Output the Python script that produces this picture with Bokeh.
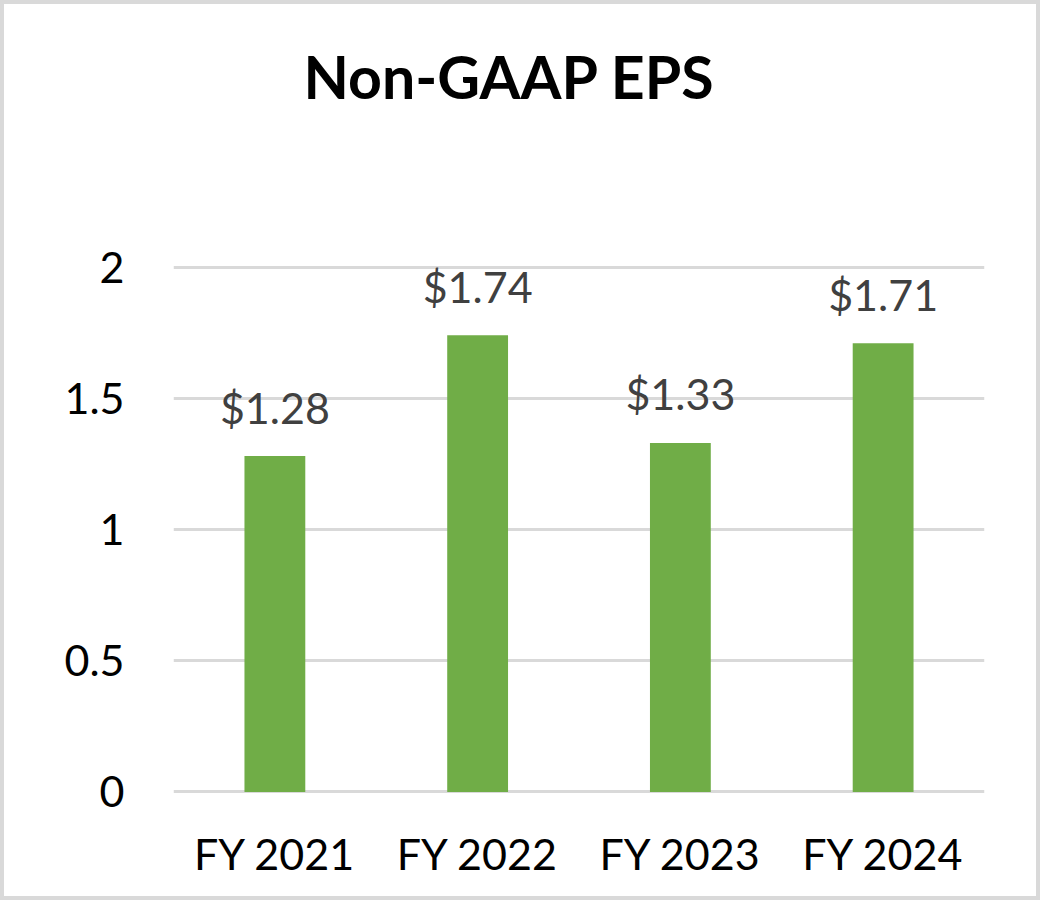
from bokeh.plotting import figure
from bokeh.models import (FactorRange, Range1d, FixedTicker, NumeralTickFormatter,
                          ColumnDataSource, Title)
from bokeh.core.properties import value
from bokeh.embed import file_html
from bokeh.resources import INLINE

categories = ["FY 2021", "FY 2022", "FY 2023", "FY 2024"]
eps_values = [1.28, 1.74, 1.33, 1.71]
eps_labels = ["$1.28", "$1.74", "$1.33", "$1.71"]
y_ticks = [0, 0.5, 1, 1.5, 2]
title_text = "Non-GAAP EPS"

FONT = "Lato"
W, H = 1040, 900

source = ColumnDataSource(dict(cat=categories, val=eps_values, lab=eps_labels))

p = figure(
    width=W, height=H,
    x_range=FactorRange(factors=categories, range_padding=0),
    y_range=Range1d(-0.01, 2.01),
    output_backend="svg", toolbar_location=None,
    min_border_left=169, min_border_right=60,
    min_border_top=260, min_border_bottom=110,
)
p.styles = {"border": "4px solid #d9d9d9"}
p.outline_line_color = None
p.background_fill_color = "white"
p.border_fill_color = "white"

p.vbar(x="cat", top="val", width=0.30, source=source, color="#70ad47", line_color=None)

p.text(x="cat", y="val", text="lab", source=source,
       text_align="center", text_baseline="alphabetic", y_offset=-49,
       text_font=value(FONT), text_font_size="43px", text_color="#404040")

# blank spacer panel between the frame and the title
p.add_layout(Title(text=" ", standoff=134, text_font=FONT, text_font_size="10px",
                   text_color="white"), "above")

p.add_layout(Title(text=title_text, align="left", offset=130, standoff=10,
                   text_font=FONT, text_font_style="bold", text_font_size="59px",
                   text_color="black"), "above")

p.xgrid.grid_line_color = None
p.ygrid.ticker = FixedTicker(ticks=y_ticks)
p.ygrid.grid_line_color = "#d9d9d9"
p.ygrid.grid_line_width = 3

p.yaxis.ticker = FixedTicker(ticks=y_ticks)
p.yaxis.formatter = NumeralTickFormatter(format="0.[0]")
for ax in (p.xaxis, p.yaxis):
    ax.axis_line_color = None
    ax.major_tick_line_color = None
    ax.minor_tick_line_color = None
    ax.major_tick_in = 0
    ax.major_tick_out = 0
    ax.major_label_text_font = FONT
    ax.major_label_text_font_size = "43px"
    ax.major_label_text_color = "black"
p.yaxis.major_label_standoff = 49
p.xaxis.major_label_standoff = 33

open("out.html", "w").write(file_html(p, INLINE))
